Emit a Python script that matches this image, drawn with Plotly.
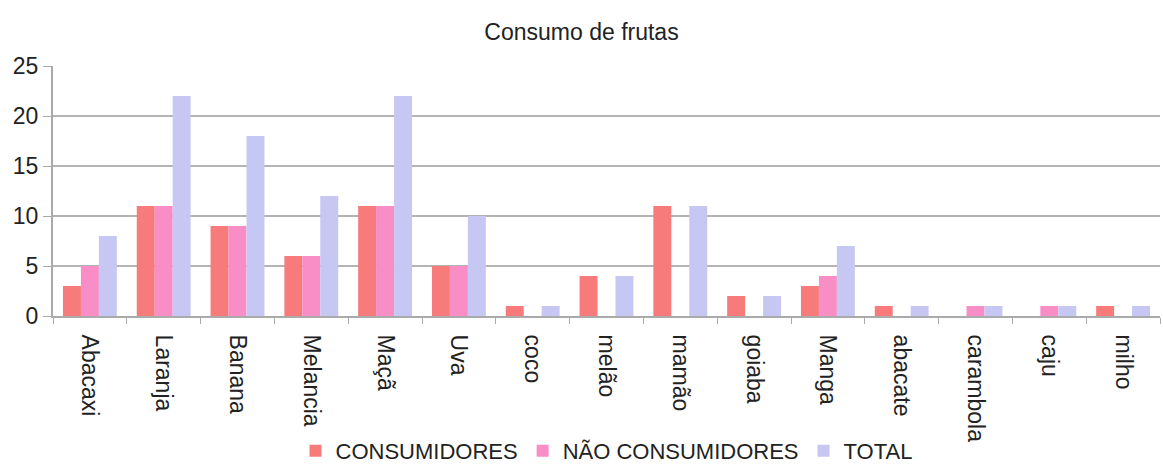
import plotly.graph_objects as go

frutas = ["Abacaxi", "Laranja", "Banana", "Melancia", "Maçã", "Uva", "coco", "melão",
          "mamão", "goiaba", "Manga", "abacate", "carambola", "caju", "milho"]
consumidores = [3, 11, 9, 6, 11, 5, 1, 4, 11, 2, 3, 1, 0, 0, 1]
nao_consumidores = [5, 11, 9, 6, 11, 5, 0, 0, 0, 0, 4, 0, 1, 1, 0]
total = [8, 22, 18, 12, 22, 10, 1, 4, 11, 2, 7, 1, 1, 1, 1]

series = [
    ("CONSUMIDORES", consumidores, "#F77B7B"),
    ("NÃO CONSUMIDORES", nao_consumidores, "#F98DC6"),
    ("TOTAL", total, "#C7C7F4"),
]

fig = go.Figure()
for nome, valores, cor in series:
    fig.add_trace(go.Bar(x=frutas, y=valores, name=nome, marker_color=cor,
                         marker_line_width=0))

fig.update_layout(
    width=1163, height=472,
    margin=dict(l=53, r=3, t=66, b=156, autoexpand=False),
    paper_bgcolor="white", plot_bgcolor="white",
    font=dict(family="Liberation Sans, Arial, sans-serif", size=23, color="#222"),
    title=dict(text="Consumo de frutas", x=0.5, xanchor="center", y=0.932,
               yanchor="middle", font=dict(size=23, color="#222")),
    barmode="group", bargap=0.27, bargroupgap=0,
    showlegend=True,
    legend=dict(orientation="h", x=0.5, xanchor="center",
                yref="container", y=0.0, yanchor="bottom",
                font=dict(size=22, color="#222"), itemwidth=30,
                traceorder="normal", tracegroupgap=0),
)
fig.update_xaxes(
    tickangle=90, tickson="boundaries", ticks="outside", ticklen=6,
    tickcolor="#aaa", showline=True, linecolor="#aaa", linewidth=2,
    tickfont=dict(size=23, color="#222"), showgrid=False, automargin=False,
    ticklabelstandoff=12,
)
fig.update_yaxes(
    range=[0, 25], dtick=5, ticks="outside", ticklen=8, tickcolor="#aaa",
    showline=True, linecolor="#aaa", linewidth=2,
    gridcolor="#b4b4b4", gridwidth=2, zeroline=False, automargin=False,
    tickfont=dict(size=23, color="#222"),
)

fig.write_html("out.html")
